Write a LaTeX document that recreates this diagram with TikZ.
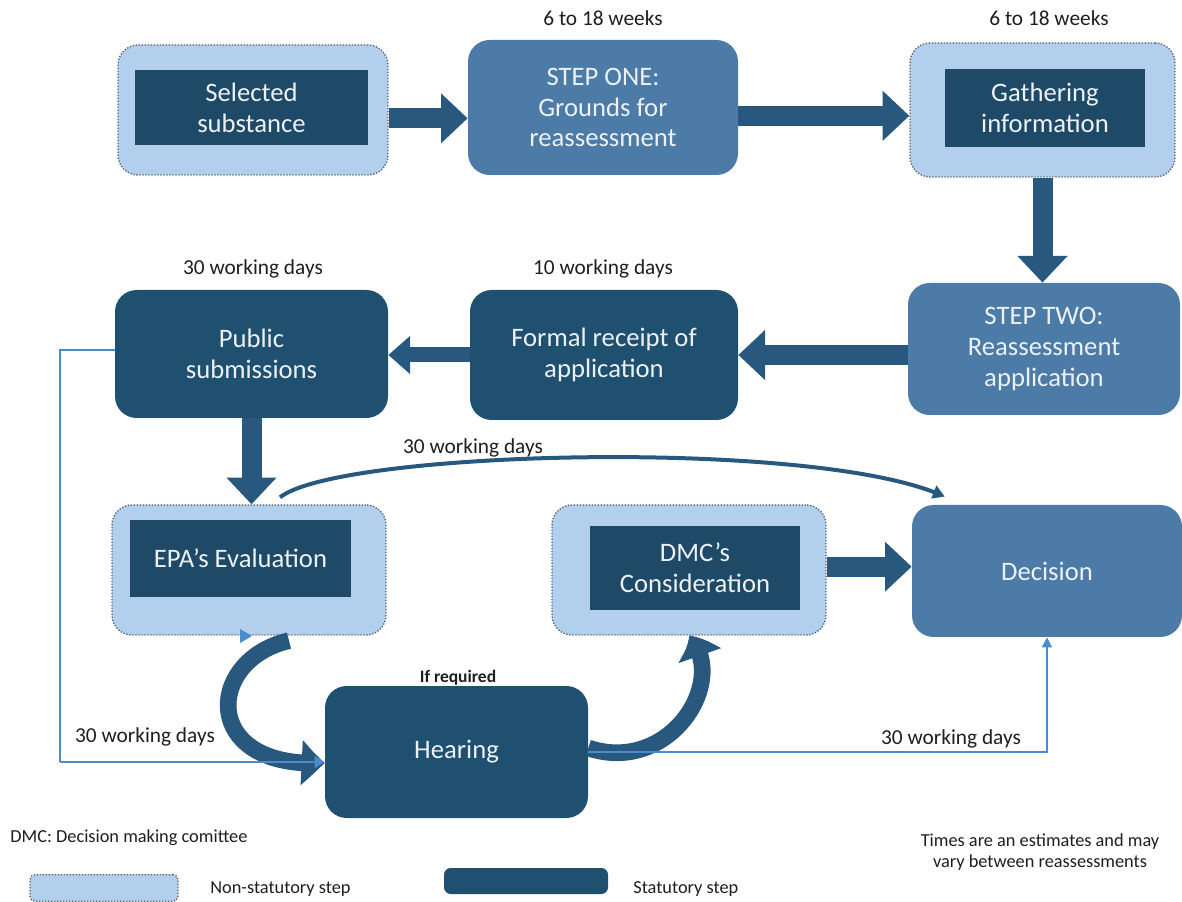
\documentclass[tikz,border=0pt]{standalone}
\usepackage{fontspec}
\setmainfont{Carlito}
\usetikzlibrary{arrows.meta,bending}
\definecolor{dkbox}{RGB}{32,80,112}
\definecolor{innerbox}{RGB}{30,74,104}
\definecolor{medbox}{RGB}{75,123,166}
\definecolor{lightbox}{RGB}{178,208,238}
\definecolor{dotc}{RGB}{85,95,110}
\definecolor{arrc}{RGB}{40,88,125}
\definecolor{thinc}{RGB}{75,140,205}
\definecolor{txt}{RGB}{236,241,246}
\definecolor{labc}{RGB}{30,30,30}
\begin{document}
\begin{tikzpicture}[x=0.6pt,y=-0.6pt,
  box/.style={inner sep=0pt, align=center, text=txt, font=\fontsize{16}{18.5}\selectfont},
  stat/.style={box, fill=dkbox, rounded corners=13pt},
  med/.style={box, fill=medbox, rounded corners=13pt},
  nonstat/.style={inner sep=0pt, fill=lightbox, draw=dotc, densely dotted, line width=0.8pt, rounded corners=12pt},
  innerrect/.style={box, fill=innerbox},
  barrow/.style={draw=arrc, line width=12pt, -{Triangle[width=29pt,length=16pt]}},
  sarrow/.style={draw=arrc, line width=9pt, -{Triangle[width=22pt,length=13pt]}},
  carrow/.style={draw=arrc, line width=10pt, -{Triangle[width=26pt,length=14pt,bend]}},
  tarrow/.style={draw=arrc, line width=2.4pt, -{Triangle[width=8pt,length=7pt,bend]}},
  tline/.style={draw=thinc, line width=0.9pt},
  lab/.style={text=labc, inner sep=0pt, font=\fontsize{12.8}{14}\selectfont},
  leg/.style={text=labc, inner sep=0pt, font=\fontsize{11}{13}\selectfont, align=center}
]
\useasboundingbox (0,0) rectangle (1182,902);

% top row
\node[nonstat, minimum width=162pt, minimum height=78pt] (sel) at (253,110) {};
\node[innerrect, minimum width=139.8pt, minimum height=45pt] (seli) at (251.5,107.5) {Selected\\substance};
\node[med, minimum width=162pt, minimum height=81pt] (one) at (603,107.5) {STEP ONE:\\Grounds for\\reassessment};
\node[nonstat, minimum width=159pt, minimum height=80.4pt] (gat) at (1042.5,110) {};
\node[innerrect, minimum width=120pt, minimum height=46.8pt] (gati) at (1045,108) {Gathering\\information};

% second row
\node[med, minimum width=163.2pt, minimum height=79.2pt] (two) at (1044,349) {STEP TWO:\\Reassessment\\application};
\node[stat, minimum width=160.8pt, minimum height=78pt] (frm) at (604,355) {Formal receipt of\\application};
\node[stat, minimum width=163.8pt, minimum height=76.8pt] (pub) at (251.5,354) {Public\\submissions};

% third row
\node[nonstat, minimum width=164.4pt, minimum height=78pt] (epa) at (249,570) {};
\node[innerrect, minimum width=132.6pt, minimum height=46.2pt] (epai) at (240.5,558.5) {EPA\symbol{39}s Evaluation};
\node[nonstat, minimum width=164.4pt, minimum height=78pt] (dmc) at (689,570) {};
\node[innerrect, minimum width=126pt, minimum height=50.4pt] (dmci) at (695,568) {DMC\symbol{39}s\\Consideration};
\node[med, minimum width=162pt, minimum height=79.2pt] (dec) at (1047,571) {Decision};

% hearing
\node[stat, minimum width=157.8pt, minimum height=79.2pt] (hear) at (456.5,752) {Hearing};

% labels
\node[lab] (l1) at (603,18) {6 to 18 weeks};
\node[lab] (l2) at (1049,18) {6 to 18 weeks};
\node[lab] (l3) at (253,269) {30 working days};
\node[lab] (l4) at (603,269) {10 working days};
\node[lab] (l5) at (473,448) {30 working days};
\node[lab] (l6) at (145,737) {30 working days};
\node[lab] (l7) at (951,739) {30 working days};
\node[text=labc, inner sep=0pt, font=\bfseries\fontsize{10.5}{12}\selectfont] (l8) at (458,678) {If required};

% block arrows
\draw[barrow] ([yshift=-5pt]sel.east) -- ([yshift=-5pt]sel.east -| one.west);
\draw[barrow] ([yshift=-5pt]one.east) -- ([yshift=-5pt]one.east -| gat.west);
\draw[barrow] (gat.south) -- (gat.south |- two.north);
\draw[barrow] (two.west |- frm.east) -- (frm.east);
\draw[sarrow] (frm.west) -- (frm.west -| pub.east);
\draw[barrow] (pub.south) -- (pub.south |- epa.north);
\draw[barrow] ([yshift=2pt]dmc.east) -- ([yshift=2pt]dmc.east -| dec.west);

% curved thick arrows
\draw[carrow] ([xshift=24pt,yshift=-3pt]epa.south) .. controls (205,660) and (200,770) .. ([yshift=-6.5pt]hear.west);
\draw[carrow] ([yshift=2.4pt]hear.east) .. controls (670,775) and (730,680) .. (dmc.south);

% thin curved arrow
\draw[tarrow] ([xshift=18.6pt,yshift=4.2pt]epa.north) .. controls (340,450) and (820,438) .. ([xshift=19.8pt,yshift=4.8pt]dec.north west);

% thin light lines
\coordinate (lc) at (60,762);
\draw[tline] ([yshift=2.4pt]pub.west) -| (lc);
\draw[tline, -{Triangle[width=7pt,length=6pt]}] (lc) -- (lc -| hear.west);
\draw[tline, -{Triangle[width=6pt,length=6pt]}] (hear.east) -| (dec.south);
\fill[thinc] (240,629) -- (252,636) -- (240,643) -- cycle;

% legend
\node[leg, anchor=west] (dmcnote) at (10,838) {DMC: Decision making comittee};
\node[leg] (times) at (1040,852) {Times are an estimates and may\\vary between reassessments};
\node[nonstat, rounded corners=3pt, minimum width=88.8pt, minimum height=16pt] (legn) at (104,888) {};
\node[fill=dkbox, rounded corners=4pt, inner sep=0pt, minimum width=98.4pt, minimum height=15.6pt] (legs) at (526,881) {};
\node[leg, anchor=west] (legnt) at (210,889) {Non-statutory step};
\node[leg, anchor=west] (legst) at (633,889) {Statutory step};
\end{tikzpicture}
\end{document}
